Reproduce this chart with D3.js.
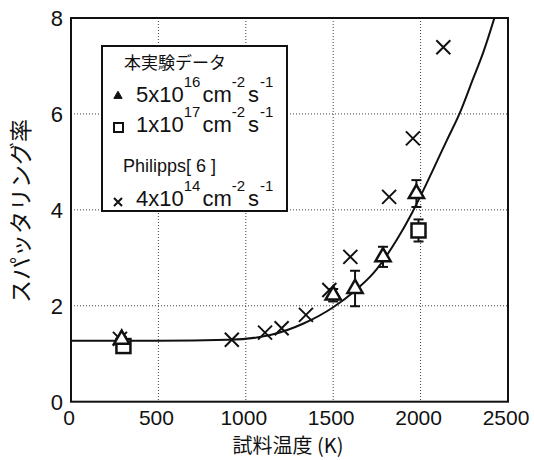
<!DOCTYPE html>
<html lang="ja">
<head>
<meta charset="UTF-8">
<title>スパッタリング率</title>
<script src="https://d3js.org/d3.v7.min.js"></script>
<style>
  body { margin: 0; background: #fff; }
  text { font-family: "Liberation Sans", Arial, sans-serif; fill: #111; }
  .jp { font-family: "Noto Sans CJK JP", sans-serif; }
</style>
</head>
<body>
<svg id="chart" width="534" height="460"></svg>
<script>
// axis ticks
const xTicks = [0, 500, 1000, 1500, 2000, 2500];
const yTicks = [0, 2, 4, 6, 8];

// this work, 5x10^16 (triangles)
const triTemp  = [290, 1500, 1625, 1785, 1976];
const triYield = [1.30, 2.22, 2.36, 3.02, 4.34];
const triErr   = [0.05, 0.13, 0.37, 0.21, 0.28];

// this work, 1x10^17 (squares)
const sqTemp  = [300, 1988];
const sqYield = [1.16, 3.57];
const sqErr   = [0, 0.23];

// Philipps [6], 4x10^14 (crosses)
const philTemp  = [280, 920, 1110, 1205, 1344, 1478, 1598, 1820, 1956, 2130];
const philYield = [1.31, 1.29, 1.44, 1.53, 1.81, 2.33, 3.02, 4.27, 5.49, 7.39];

// fitted curve
const fitTemp  = [0, 500, 900, 1140, 1330, 1500, 1620, 1730, 1863, 1950, 2016, 2073, 2150, 2222, 2302, 2360, 2422];
const fitYield = [1.27, 1.27, 1.29, 1.39, 1.63, 1.97, 2.30, 2.68, 3.37, 3.93, 4.41, 4.85, 5.45, 6.00, 6.75, 7.30, 8.00];

const svg = d3.select("#chart");
const pLeft = 71, pRight = 508, pTop = 18, pBottom = 401.7;

const x = d3.scaleLinear().domain([0, 2500]).range([pLeft, pRight]);
const y = d3.scaleLinear().domain([0, 8]).range([pBottom, pTop]);

// grid (dotted)
svg.append("g").selectAll("line")
    .data(xTicks.slice(1, -1))
    .join("line")
    .attr("x1", d => x(d)).attr("x2", d => x(d))
    .attr("y1", pTop).attr("y2", pBottom)
    .attr("stroke", "#444").attr("stroke-width", 1)
    .attr("stroke-dasharray", "1,2");
svg.append("g").selectAll("line")
    .data(yTicks.slice(1, -1))
    .join("line")
    .attr("x1", pLeft).attr("x2", pRight)
    .attr("y1", d => y(d)).attr("y2", d => y(d))
    .attr("stroke", "#444").attr("stroke-width", 1)
    .attr("stroke-dasharray", "1,2");

// tick labels
svg.append("g").selectAll("text")
    .data(xTicks)
    .join("text")
    .attr("x", d => x(d) - 2)
    .attr("y", 425)
    .attr("text-anchor", "middle")
    .attr("font-size", 21)
    .text(d => d);
svg.append("g").selectAll("text")
    .data(yTicks)
    .join("text")
    .attr("x", 63)
    .attr("y", d => y(d) + 8)
    .attr("text-anchor", "end")
    .attr("font-size", 22)
    .text(d => d);

// axis titles
svg.append("text")
    .attr("class", "jp")
    .attr("x", 288).attr("y", 453)
    .attr("text-anchor", "middle")
    .attr("font-size", 20)
    .text("試料温度 (K)");
svg.append("text")
    .attr("class", "jp")
    .attr("transform", "translate(29,211) rotate(-90)")
    .attr("text-anchor", "middle")
    .attr("font-size", 23)
    .text("スパッタリング率");

// clip for curve
svg.append("clipPath").attr("id", "plot")
    .append("rect")
    .attr("x", pLeft).attr("y", pTop)
    .attr("width", pRight - pLeft).attr("height", pBottom - pTop);

// fitted curve
const fit = fitTemp.map((t, i) => [t, fitYield[i]]);
svg.append("path")
    .datum(fit)
    .attr("clip-path", "url(#plot)")
    .attr("fill", "none")
    .attr("stroke", "#111")
    .attr("stroke-width", 2)
    .attr("d", d3.line().x(d => x(d[0])).y(d => y(d[1])).curve(d3.curveMonotoneX));

// error bars
function errBars(temps, vals, errs) {
    const g = svg.append("g").attr("stroke", "#111").attr("stroke-width", 2);
    temps.forEach((t, i) => {
        if (!errs[i]) return;
        const cx = x(t), y1 = y(vals[i] - errs[i]), y2 = y(vals[i] + errs[i]);
        g.append("line").attr("x1", cx).attr("x2", cx).attr("y1", y1).attr("y2", y2);
        g.append("line").attr("x1", cx - 5).attr("x2", cx + 5).attr("y1", y1).attr("y2", y1);
        g.append("line").attr("x1", cx - 5).attr("x2", cx + 5).attr("y1", y2).attr("y2", y2);
    });
}
errBars(triTemp, triYield, triErr);
errBars(sqTemp, sqYield, sqErr);

// crosses
const crossPath = s => `M${-s},${-s}L${s},${s}M${-s},${s}L${s},${-s}`;
svg.append("g").selectAll("path")
    .data(philTemp.map((t, i) => [t, philYield[i]]))
    .join("path")
    .attr("transform", d => `translate(${x(d[0])},${y(d[1])})`)
    .attr("d", crossPath(7))
    .attr("fill", "none").attr("stroke", "#111").attr("stroke-width", 2);

// squares
svg.append("g").selectAll("rect")
    .data(sqTemp.map((t, i) => [t, sqYield[i]]))
    .join("rect")
    .attr("x", d => x(d[0]) - 7).attr("y", d => y(d[1]) - 7)
    .attr("width", 14).attr("height", 14)
    .attr("fill", "#fff").attr("stroke", "#111").attr("stroke-width", 2.5);

// triangles
svg.append("g").selectAll("path")
    .data(triTemp.map((t, i) => [t, triYield[i]]))
    .join("path")
    .attr("transform", d => `translate(${x(d[0])},${y(d[1])})`)
    .attr("d", d3.symbol(d3.symbolTriangle, 100))
    .attr("fill", "#fff").attr("stroke", "#111").attr("stroke-width", 2.5);

// frame
svg.append("rect")
    .attr("x", pLeft).attr("y", pTop)
    .attr("width", pRight - pLeft).attr("height", pBottom - pTop)
    .attr("fill", "none").attr("stroke", "#111").attr("stroke-width", 2);

// legend
const lg = svg.append("g");
lg.append("rect")
    .attr("x", 102).attr("y", 46).attr("width", 185).attr("height", 165)
    .attr("fill", "#fff").attr("stroke", "#111").attr("stroke-width", 2);
lg.append("text").attr("class", "jp")
    .attr("x", 124).attr("y", 69).attr("font-size", 17)
    .text("本実験データ");
lg.append("text")
    .attr("x", 123).attr("y", 172).attr("font-size", 18)
    .text("Philipps[ 6 ]");

function fluxLabel(yb, mant, expo) {
    const t = lg.append("text").attr("x", 136).attr("y", yb).attr("font-size", 22);
    t.append("tspan").text(mant + "x10");
    t.append("tspan").attr("font-size", 15).attr("dy", -15).text(expo);
    t.append("tspan").attr("dy", 15).attr("dx", 2).text("cm");
    t.append("tspan").attr("font-size", 15).attr("dy", -15).text("-2");
    t.append("tspan").attr("dy", 15).attr("dx", 3).text("s");
    t.append("tspan").attr("font-size", 15).attr("dy", -15).attr("dx", 1).text("-1");
}
fluxLabel(102, "5", "16");
fluxLabel(132, "1", "17");
fluxLabel(206, "4", "14");

lg.append("path")
    .attr("transform", "translate(118,96)")
    .attr("d", d3.symbol(d3.symbolTriangle, 30))
    .attr("fill", "#111").attr("stroke", "#111").attr("stroke-width", 1);
lg.append("rect")
    .attr("x", 114).attr("y", 123).attr("width", 9).attr("height", 9)
    .attr("fill", "none").attr("stroke", "#111").attr("stroke-width", 2);
lg.append("path")
    .attr("transform", "translate(118,202)")
    .attr("d", crossPath(4))
    .attr("fill", "none").attr("stroke", "#111").attr("stroke-width", 2);
</script>
</body>
</html>
